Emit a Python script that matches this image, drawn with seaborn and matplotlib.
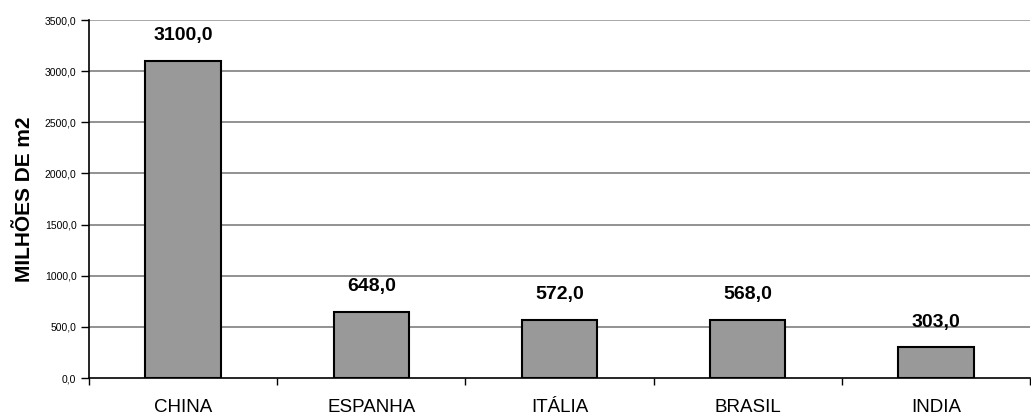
import matplotlib
matplotlib.use("Agg")
import matplotlib.pyplot as plt
import seaborn as sns
import pandas as pd
import numpy as np
from matplotlib.ticker import FixedLocator, FuncFormatter

# Produção de revestimentos cerâmicos por país (milhões de m2)
paises = ["CHINA", "ESPANHA", "ITÁLIA", "BRASIL", "INDIA"]
producao = [3100.0, 648.0, 572.0, 568.0, 303.0]
y_ticks = [0, 500, 1000, 1500, 2000, 2500, 3000, 3500]

sns.set_style("white")
plt.rcParams["font.family"] = ["Liberation Sans", "DejaVu Sans"]
plt.rcParams["text.color"] = "black"
plt.rcParams["axes.labelcolor"] = "black"
plt.rcParams["xtick.color"] = "black"
plt.rcParams["ytick.color"] = "black"

df = pd.DataFrame({"pais": paises, "valor": producao})

fig = plt.figure(figsize=(10.31, 4.17), dpi=100)
ax = fig.add_axes([0.0863, 0.0935, 0.9127, 0.8585])

sns.barplot(data=df, x="pais", y="valor", ax=ax, width=0.4,
            color="#999999", saturation=1, edgecolor="black", linewidth=1.5,
            zorder=3)

ax.set_xlim(-0.5, len(paises) - 0.5)
ax.set_ylim(0, 3500)

# linhas de grade horizontais
for v in y_ticks[1:]:
    ax.axhline(v, color="#7f7f7f" if v < 3500 else "#9a9a9a",
               linewidth=1.2, zorder=1)

ax.yaxis.set_major_locator(FixedLocator(y_ticks))
ax.yaxis.set_major_formatter(FuncFormatter(lambda v, p: f"{v:.1f}".replace(".", ",")))
ax.tick_params(axis="y", which="major", direction="out", length=6, width=1,
               labelsize=7.5, pad=3, left=True)

ax.set_xticks(range(len(paises)))
ax.set_xticklabels(paises)
ax.xaxis.set_minor_locator(FixedLocator(np.arange(-0.5, len(paises), 1.0)))
ax.tick_params(axis="x", which="major", length=0, labelsize=13.5, pad=15)
ax.tick_params(axis="x", which="minor", direction="out", length=5, width=1,
               bottom=True)

for side in ["top", "right"]:
    ax.spines[side].set_visible(False)
for side in ["left", "bottom"]:
    ax.spines[side].set_color("black")
    ax.spines[side].set_linewidth(1.2)

ax.set_xlabel("")
ax.set_ylabel("MILHÕES DE m2", fontsize=15, fontweight="bold", va="center")
ax.yaxis.set_label_coords(-0.0685, 0.5)

for i, v in enumerate(producao):
    ax.annotate(f"{v:.1f}".replace(".", ","), xy=(i, v), xytext=(0, 18),
                textcoords="offset points", ha="center", va="center",
                fontsize=14, fontweight="bold", zorder=4)

fig.savefig("out.png", dpi=100)
